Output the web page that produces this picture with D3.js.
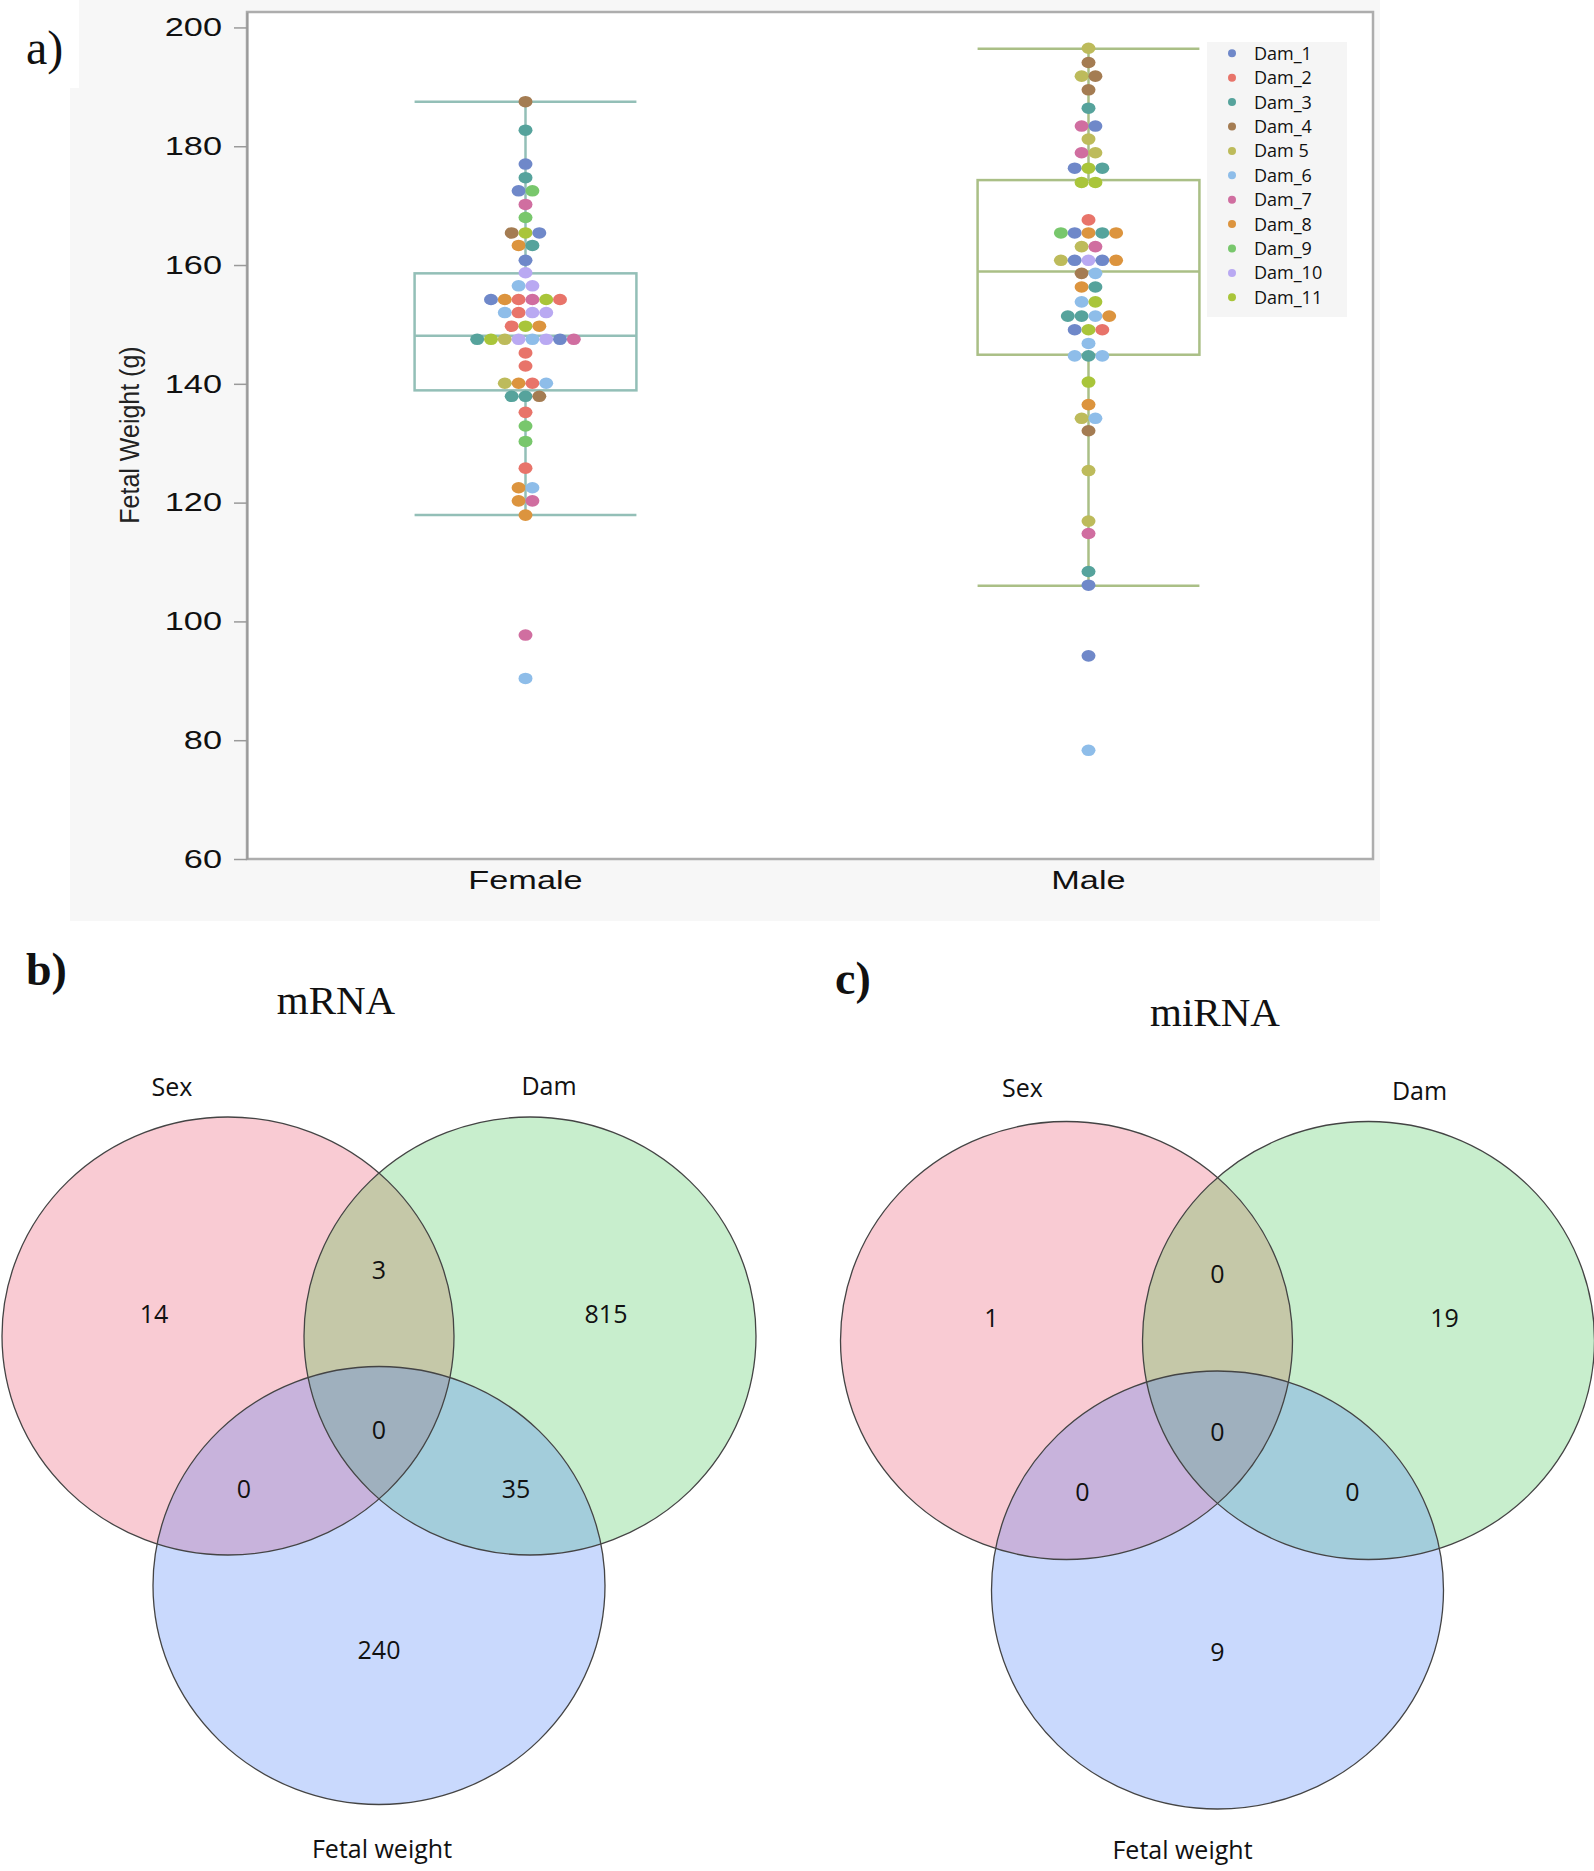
<!DOCTYPE html>
<html><head><meta charset="utf-8">
<script src="https://cdn.jsdelivr.net/npm/d3@7"></script>
<style>body{margin:0;background:#fff}svg{display:block}</style>
</head><body><svg id="c" width="1594" height="1871"></svg>
<script>
// ---------------- DATA ----------------
const sexCategories = ["Female", "Male"];
const yTicks = [60, 80, 100, 120, 140, 160, 180, 200];
const damNames = ["Dam_1","Dam_2","Dam_3","Dam_4","Dam 5","Dam_6","Dam_7","Dam_8","Dam_9","Dam_10","Dam_11"];

const femaleWeights = [187.5, 182.7, 177.0, 174.7, 172.5, 172.5, 170.2, 168.0,
  165.4, 165.4, 165.4, 163.3, 163.3, 160.8, 158.7, 156.5, 156.5,
  154.2, 154.2, 154.2, 154.2, 154.2, 154.2, 152.0, 152.0, 152.0, 152.0,
  149.7, 149.7, 149.7, 147.5, 147.5, 147.5, 147.5, 147.5, 147.5, 147.5, 147.5,
  145.2, 143.0, 140.1, 140.1, 140.1, 140.1, 137.9, 137.9, 137.9,
  135.2, 132.9, 130.3, 125.8, 122.5, 122.5, 120.3, 120.3, 117.9, 97.7, 90.4];
const femaleDams = [4, 3, 1, 3, 1, 9, 7, 9,
  4, 11, 1, 8, 3, 1, 10, 6, 10,
  1, 8, 2, 7, 11, 2, 6, 2, 10, 10,
  2, 11, 8, 3, 11, 5, 10, 6, 10, 1, 7,
  2, 2, 5, 8, 2, 6, 3, 3, 4,
  2, 9, 9, 2, 8, 6, 8, 7, 8, 7, 6];

const maleWeights = [196.5, 194.1, 191.8, 191.8, 189.5, 186.4, 183.4, 183.4, 181.2,
  178.9, 178.9, 176.3, 176.3, 176.3, 173.9, 173.9, 167.6,
  165.4, 165.4, 165.4, 165.4, 165.4, 163.1, 163.1,
  160.8, 160.8, 160.8, 160.8, 160.8, 158.6, 158.6, 156.3, 156.3, 153.8, 153.8,
  151.4, 151.4, 151.4, 151.4, 149.1, 149.1, 149.1, 146.8, 144.7, 144.7, 144.7,
  140.3, 136.5, 134.2, 134.2, 132.1, 125.4, 116.9, 114.8, 108.4, 106.1, 94.2, 78.3];
const maleDams = [5, 4, 5, 4, 4, 3, 7, 1, 5,
  7, 5, 1, 11, 3, 11, 11, 2,
  9, 1, 8, 3, 8, 5, 7,
  5, 1, 10, 1, 8, 4, 6, 8, 3, 6, 11,
  3, 3, 6, 8, 1, 11, 2, 6, 6, 3, 6,
  11, 8, 5, 6, 4, 5, 5, 7, 3, 1, 1, 6];

// box statistics: [Female, Male]
const whiskerHigh = [187.5, 196.4];
const quartile3 = [158.6, 174.3];
const medians = [148.1, 158.9];
const quartile1 = [138.9, 144.9];
const whiskerLow = [117.9, 106.0];

const vennSetNames = ["Sex", "Dam", "Fetal weight"];
// region order: Sex only, Dam only, Fetal weight only, Sex&Dam, Sex&FW, Dam&FW, all three
const mrnaCounts = [14, 815, 240, 3, 0, 35, 0];
const mirnaCounts = [1, 19, 9, 0, 0, 0, 0];

// ---------------- STYLE ----------------
const damColors = ["#6f88c9","#e8746a","#56a39c","#a47c52","#bdbb5b","#8ebde9","#d06ea0","#dc943e","#78c76c","#b9a9f2","#a9c53a"];
const boxColors = ["#93bfb7", "#aabf86"];
const SX = 1.32; // horizontal stretch of panel a text
const sansA = "'Liberation Sans', Arial, sans-serif";
const sansV = "'Open Sans', 'Noto Sans', sans-serif";
const serif = "'Liberation Serif', 'Times New Roman', serif";

const svg = d3.select("#c");

// ---------------- PANEL A ----------------
svg.append("rect").attr("x", 70).attr("y", 0).attr("width", 1310).attr("height", 921).attr("fill", "#f7f7f7");
svg.append("rect").attr("x", 0).attr("y", 0).attr("width", 79).attr("height", 88).attr("fill", "#fff");
svg.append("text").attr("x", 26).attr("y", 64).text("a)")
  .style("font-family", serif).style("font-size", "48px").attr("fill", "#111");

const y = d3.scaleLinear().domain([60, 202.6]).range([859, 12]);
const x = d3.scaleBand().domain(sexCategories).range([244, 1370]);

svg.append("rect").attr("x", 247).attr("y", 12).attr("width", 1126).attr("height", 847)
  .attr("fill", "#fff").attr("stroke", "#adadad").attr("stroke-width", 2.5);

const ag = svg.append("g").attr("transform", "translate(247,0)")
  .call(d3.axisLeft(y).tickValues(yTicks).tickSize(13).tickSizeOuter(0));
ag.select(".domain").attr("stroke", "#9a9a9a").attr("stroke-width", 2);
ag.selectAll(".tick line").attr("stroke", "#9a9a9a").attr("stroke-width", 1.5);
ag.selectAll(".tick text").attr("x", -25 / SX).attr("transform", `scale(${SX},1)`)
  .attr("fill", "#111").style("font-family", sansA).style("font-size", "26px");

// x labels
svg.append("g").selectAll("text").data(sexCategories).join("text")
  .attr("x", d => (x(d) + x.bandwidth() / 2) / SX).attr("y", 889)
  .attr("transform", `scale(${SX},1)`).attr("text-anchor", "middle")
  .style("font-family", sansA).style("font-size", "26px").attr("fill", "#111").text(d => d);

// y label
svg.append("text").attr("transform", `translate(129,435) scale(1.12,1) rotate(-90)`)
  .attr("text-anchor", "middle").attr("dy", "0.35em")
  .style("font-family", sansA).style("font-size", "25px").attr("fill", "#222").text("Fetal Weight (g)");

// boxes
const boxW = x.bandwidth() * 0.394;
sexCategories.forEach((cat, i) => {
  const cx = x(cat) + x.bandwidth() / 2;
  const g = svg.append("g").attr("stroke", boxColors[i]).attr("stroke-width", 2.5).attr("fill", "none");
  g.append("line").attr("x1", cx).attr("x2", cx).attr("y1", y(whiskerHigh[i])).attr("y2", y(quartile3[i]));
  g.append("line").attr("x1", cx).attr("x2", cx).attr("y1", y(quartile1[i])).attr("y2", y(whiskerLow[i]));
  [whiskerHigh[i], whiskerLow[i], medians[i]].forEach(v => {
    g.append("line").attr("x1", cx - boxW / 2).attr("x2", cx + boxW / 2).attr("y1", y(v)).attr("y2", y(v));
  });
  g.append("rect").attr("x", cx - boxW / 2).attr("width", boxW)
    .attr("y", y(quartile3[i])).attr("height", y(quartile1[i]) - y(quartile3[i]));
});

// swarm dots
function swarm(weights, dams, cat) {
  const pts = [];
  let i = 0;
  while (i < weights.length) {
    let j = i;
    while (j < weights.length && weights[j] === weights[i]) j++;
    const n = j - i;
    for (let k = 0; k < n; k++) pts.push({ v: weights[i + k], dam: dams[i + k], off: k - (n - 1) / 2, cat });
    i = j;
  }
  return pts;
}
const allPts = swarm(femaleWeights, femaleDams, "Female").concat(swarm(maleWeights, maleDams, "Male"));
const spacing = 13.8;
svg.append("g").selectAll("ellipse").data(allPts).join("ellipse")
  .attr("cx", d => x(d.cat) + x.bandwidth() / 2 + d.off * spacing)
  .attr("cy", d => y(d.v)).attr("rx", 7).attr("ry", 5.8)
  .attr("fill", d => damColors[d.dam - 1]);

// legend
const lg = svg.append("g");
lg.append("rect").attr("x", 1207).attr("y", 42).attr("width", 140).attr("height", 275).attr("fill", "#f5f5f5");
const le = lg.selectAll("g").data(damNames).join("g")
  .attr("transform", (d, i) => `translate(0,${53.3 + i * 24.4})`);
le.append("circle").attr("cx", 1232).attr("cy", 0).attr("r", 4).attr("fill", (d, i) => damColors[i]);
le.append("text").attr("x", 1254).attr("y", 6.5).text(d => d)
  .style("font-family", sansV).style("font-size", "18px").attr("fill", "#111");

// ---------------- VENN PANELS ----------------
const vennColors = {
  base: ["#f9cbd3", "#c8eecd", "#c9d9fd"],
  sd: "#c5c8a8", sf: "#c8b3dc", df: "#a3cddb", all: "#9fb0be"
};
const circleOffsets = [[-151, 0], [151, 0], [0, 249.5]];
const vennLayouts = [
  { id: "b", cx: 379, cy: 1336, tag: "b)", tagX: 26, tagY: 985, title: "mRNA", titleX: 336, titleY: 1014,
    counts: mrnaCounts,
    setLabelPos: [[-207, -250], [170, -251], [3, 512]],
    countPos: [[-225, -23], [227, -23], [0, 313], [0, -67], [-135, 152], [137, 152], [0, 93]] },
  { id: "c", cx: 1217.5, cy: 1340.5, tag: "c)", tagX: 835, tagY: 994, title: "miRNA", titleX: 1215, titleY: 1026,
    counts: mirnaCounts,
    setLabelPos: [[-195, -254], [202, -251], [-35, 508]],
    countPos: [[-226, -24], [227, -24], [0, 310], [0, -68], [-135, 150], [135, 150], [0, 90]] }
];
const defs = svg.append("defs");
const RX = 226, RY = 219;
vennLayouts.forEach(L => {
  const cs = circleOffsets.map(o => [L.cx + o[0], L.cy + o[1]]);
  cs.forEach((c, k) => {
    defs.append("clipPath").attr("id", `clip-${L.id}-${k}`)
      .append("ellipse").attr("cx", c[0]).attr("cy", c[1]).attr("rx", RX).attr("ry", RY);
  });
  const g = svg.append("g");
  const ell = (parent, k, fill, clip) => {
    const e = parent.append("ellipse").attr("cx", cs[k][0]).attr("cy", cs[k][1]).attr("rx", RX).attr("ry", RY).attr("fill", fill);
    if (clip !== undefined) e.attr("clip-path", `url(#clip-${L.id}-${clip})`);
    return e;
  };
  ell(g, 0, vennColors.base[0]);
  ell(g, 1, vennColors.base[1]);
  ell(g, 2, vennColors.base[2]);
  ell(g, 1, vennColors.sd, 0);
  ell(g, 2, vennColors.sf, 0);
  ell(g, 2, vennColors.df, 1);
  const gAll = g.append("g").attr("clip-path", `url(#clip-${L.id}-0)`);
  ell(gAll, 2, vennColors.all, 1);
  cs.forEach((c, k) => {
    g.append("ellipse").attr("cx", c[0]).attr("cy", c[1]).attr("rx", RX).attr("ry", RY)
      .attr("fill", "none").attr("stroke", "#444").attr("stroke-width", 1.3);
  });
  g.selectAll("text.cnt").data(L.counts).join("text").attr("class", "cnt")
    .attr("x", (d, i) => L.cx + L.countPos[i][0]).attr("y", (d, i) => L.cy + L.countPos[i][1])
    .attr("text-anchor", "middle").attr("dominant-baseline", "central")
    .style("font-family", sansV).style("font-size", "25px").attr("fill", "#111").text(d => d);
  g.selectAll("text.set").data(vennSetNames).join("text").attr("class", "set")
    .attr("x", (d, i) => L.cx + L.setLabelPos[i][0]).attr("y", (d, i) => L.cy + L.setLabelPos[i][1])
    .attr("text-anchor", "middle").attr("dominant-baseline", "central")
    .style("font-family", sansV).style("font-size", "25px").attr("fill", "#111").text(d => d);
  svg.append("text").attr("x", L.titleX).attr("y", L.titleY).attr("text-anchor", "middle")
    .style("font-family", serif).style("font-size", "41px").attr("fill", "#111").text(L.title);
  svg.append("text").attr("x", L.tagX).attr("y", L.tagY)
    .style("font-family", serif).style("font-size", "46px").style("font-weight", "bold").attr("fill", "#111").text(L.tag);
});
</script></body></html>
